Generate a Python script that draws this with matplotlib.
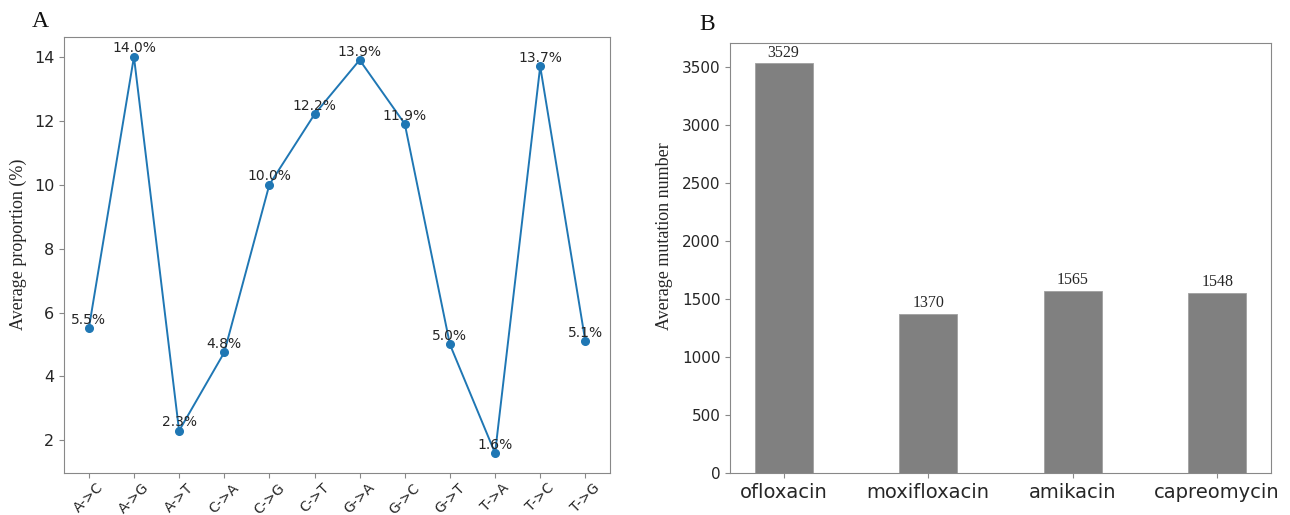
import matplotlib.pyplot as plt

# Panel A: base substitution proportions
substitutions = ["A->C", "A->G", "A->T", "C->A", "C->G", "C->T",
                 "G->A", "G->C", "G->T", "T->A", "T->C", "T->G"]
proportions = [5.5, 14.0, 2.3, 4.75, 10.0, 12.2, 13.9, 11.9, 5.0, 1.6, 13.7, 5.1]

# Panel B: mutation counts per drug
drugs = ["ofloxacin", "moxifloxacin", "amikacin", "capreomycin"]
mutation_counts = [3529, 1370, 1565, 1548]

SERIF = ["Liberation Serif", "DejaVu Serif"]
SPINE_COLOR = "#888888"
TEXT_COLOR = "#262626"

fig = plt.figure(figsize=(12.9, 5.15), dpi=100)
ax_a = fig.add_axes([0.0496, 0.0816, 0.4234, 0.8466])
ax_b = fig.add_axes([0.566, 0.0816, 0.419, 0.835])

# --- Panel A ---
x_pos = list(range(len(substitutions)))
ax_a.plot(x_pos, proportions, marker="o", markersize=5.5, color="#1f77b4", linewidth=1.4)
for xi, val in zip(x_pos, proportions):
    ax_a.annotate(f"{val:.1f}%", (xi, val), xytext=(0, 1), textcoords="offset points",
                  ha="center", va="bottom", fontsize=10, color=TEXT_COLOR)
ax_a.set_xticks(x_pos)
ax_a.set_xticklabels(substitutions, rotation=45, fontsize=10, color=TEXT_COLOR)
ax_a.tick_params(axis="x", pad=2)
ax_a.set_yticks([2, 4, 6, 8, 10, 12, 14])
ax_a.tick_params(axis="y", labelsize=11.5, labelcolor=TEXT_COLOR)
ax_a.set_ylabel("Average proportion (%)", family=SERIF, fontsize=13, color=TEXT_COLOR)
ax_a.yaxis.set_label_coords(-0.068, 0.525)

# --- Panel B ---
bars = ax_b.bar(drugs, mutation_counts, width=0.4, color="#808080", edgecolor="#a0a0a0", linewidth=0.6)
for bar, val in zip(bars, mutation_counts):
    ax_b.text(bar.get_x() + bar.get_width() / 2, bar.get_height() + 25, f"{val}",
              ha="center", va="bottom", family=SERIF, fontsize=11.5, color=TEXT_COLOR)
ax_b.tick_params(axis="x", labelsize=14, labelcolor=TEXT_COLOR)
ax_b.tick_params(axis="y", labelsize=11, labelcolor=TEXT_COLOR)
ax_b.set_ylabel("Average mutation number", family=SERIF, fontsize=13, color=TEXT_COLOR)
ax_b.yaxis.set_label_coords(-0.105, 0.551)

for ax in (ax_a, ax_b):
    for spine in ax.spines.values():
        spine.set_color(SPINE_COLOR)
    ax.tick_params(color=SPINE_COLOR)

fig.text(0.031, 0.958, "A", family=SERIF, fontsize=17, ha="center", va="center", color="#111111")
fig.text(0.548, 0.953, "B", family=SERIF, fontsize=17, ha="center", va="center", color="#111111")

fig.savefig("out.png", dpi=100)
